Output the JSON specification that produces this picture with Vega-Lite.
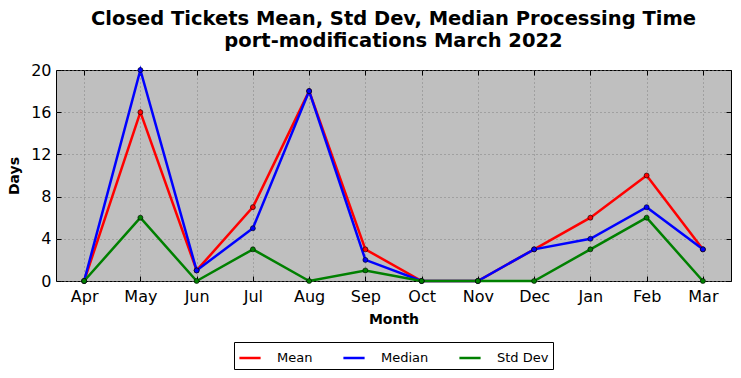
{
  "$schema": "https://vega.github.io/schema/vega-lite/v6.json",
  "width": 675,
  "height": 211,
  "autosize": {"type": "none"},
  "padding": {"left": 56, "top": 70, "right": 10, "bottom": 97},
  "background": "white",
  "title": {
    "text": ["Closed Tickets Mean, Std Dev, Median Processing Time", "port-modifications March 2022"],
    "font": "DejaVu Sans",
    "fontSize": 19.5,
    "fontWeight": "bold",
    "color": "black",
    "lineHeight": 22,
    "anchor": "middle",
    "offset": 11
  },
  "data": {
    "values": [
      {"month": "Apr", "series": "Mean", "days": 0},
      {"month": "May", "series": "Mean", "days": 16},
      {"month": "Jun", "series": "Mean", "days": 1},
      {"month": "Jul", "series": "Mean", "days": 7},
      {"month": "Aug", "series": "Mean", "days": 18},
      {"month": "Sep", "series": "Mean", "days": 3},
      {"month": "Oct", "series": "Mean", "days": 0},
      {"month": "Nov", "series": "Mean", "days": 0},
      {"month": "Dec", "series": "Mean", "days": 3},
      {"month": "Jan", "series": "Mean", "days": 6},
      {"month": "Feb", "series": "Mean", "days": 10},
      {"month": "Mar", "series": "Mean", "days": 3},
      {"month": "Apr", "series": "Median", "days": 0},
      {"month": "May", "series": "Median", "days": 20},
      {"month": "Jun", "series": "Median", "days": 1},
      {"month": "Jul", "series": "Median", "days": 5},
      {"month": "Aug", "series": "Median", "days": 18},
      {"month": "Sep", "series": "Median", "days": 2},
      {"month": "Oct", "series": "Median", "days": 0},
      {"month": "Nov", "series": "Median", "days": 0},
      {"month": "Dec", "series": "Median", "days": 3},
      {"month": "Jan", "series": "Median", "days": 4},
      {"month": "Feb", "series": "Median", "days": 7},
      {"month": "Mar", "series": "Median", "days": 3},
      {"month": "Apr", "series": "Std Dev", "days": 0},
      {"month": "May", "series": "Std Dev", "days": 6},
      {"month": "Jun", "series": "Std Dev", "days": 0},
      {"month": "Jul", "series": "Std Dev", "days": 3},
      {"month": "Aug", "series": "Std Dev", "days": 0},
      {"month": "Sep", "series": "Std Dev", "days": 1},
      {"month": "Oct", "series": "Std Dev", "days": 0},
      {"month": "Nov", "series": "Std Dev", "days": 0},
      {"month": "Dec", "series": "Std Dev", "days": 0},
      {"month": "Jan", "series": "Std Dev", "days": 3},
      {"month": "Feb", "series": "Std Dev", "days": 6},
      {"month": "Mar", "series": "Std Dev", "days": 0}
    ]
  },
  "encoding": {
    "x": {
      "field": "month",
      "type": "ordinal",
      "sort": ["Apr", "May", "Jun", "Jul", "Aug", "Sep", "Oct", "Nov", "Dec", "Jan", "Feb", "Mar"],
      "scale": {"type": "point", "padding": 0.5},
      "axis": {
        "title": "Month",
        "labelAngle": 0,
        "grid": true,
        "gridColor": "#808080",
        "gridDash": [1, 3],
        "gridWidth": 1,
        "domain": false,
        "tickSize": -5,
        "tickColor": "black",
        "labelPadding": 12,
        "labelFontSize": 16,
        "labelFont": "DejaVu Sans",
        "labelColor": "black",
        "titleFont": "DejaVu Sans",
        "titleFontSize": 14,
        "titleFontWeight": "bold",
        "titleColor": "black",
        "titlePadding": 8
      }
    },
    "y": {
      "field": "days",
      "type": "quantitative",
      "scale": {"domain": [0, 20], "nice": false},
      "axis": {
        "title": "Days",
        "values": [0, 4, 8, 12, 16, 20],
        "grid": true,
        "gridColor": "#808080",
        "gridDash": [1, 3],
        "gridWidth": 1,
        "domain": false,
        "tickSize": -5,
        "tickColor": "black",
        "labelPadding": 10,
        "labelFontSize": 16,
        "labelFont": "DejaVu Sans",
        "labelColor": "black",
        "titleFont": "DejaVu Sans",
        "titleFontSize": 14,
        "titleFontWeight": "bold",
        "titleColor": "black",
        "titlePadding": 9
      }
    },
    "color": {
      "field": "series",
      "type": "nominal",
      "scale": {"domain": ["Mean", "Median", "Std Dev"], "range": ["#ff0000", "#0000ff", "#008000"]},
      "legend": {
        "title": null,
        "orient": "none",
        "legendX": 178,
        "legendY": 272,
        "direction": "horizontal",
        "symbolType": "stroke",
        "symbolSize": 450,
        "symbolStrokeWidth": 2.5,
        "labelFont": "DejaVu Sans",
        "labelFontSize": 13,
        "labelColor": "black",
        "labelOffset": 15,
        "columnPadding": 25,
        "strokeColor": "black",
        "padding": 4,
        "fillColor": "white"
      }
    }
  },
  "layer": [
    {"mark": {"type": "line", "strokeWidth": 2.5}},
    {
      "mark": {"type": "point", "filled": true, "size": 25, "stroke": "black", "strokeWidth": 0.6, "opacity": 1},
      "encoding": {
        "x": {
          "field": "month",
          "type": "ordinal",
          "sort": ["Apr", "May", "Jun", "Jul", "Aug", "Sep", "Oct", "Nov", "Dec", "Jan", "Feb", "Mar"],
          "scale": {"type": "point", "padding": 0.5},
          "axis": {"orient": "top", "labels": false, "title": null, "grid": false, "domain": false, "tickSize": -5, "tickColor": "black"}
        },
        "y": {
          "field": "days",
          "type": "quantitative",
          "scale": {"domain": [0, 20], "nice": false},
          "axis": {"orient": "right", "values": [0, 4, 8, 12, 16, 20], "labels": false, "title": null, "grid": false, "domain": false, "tickSize": -5, "tickColor": "black"}
        }
      }
    }
  ],
  "resolve": {"axis": {"x": "independent", "y": "independent"}},
  "config": {
    "view": {"fill": "#bfbfbf", "stroke": "black", "strokeWidth": 1}
  }
}
